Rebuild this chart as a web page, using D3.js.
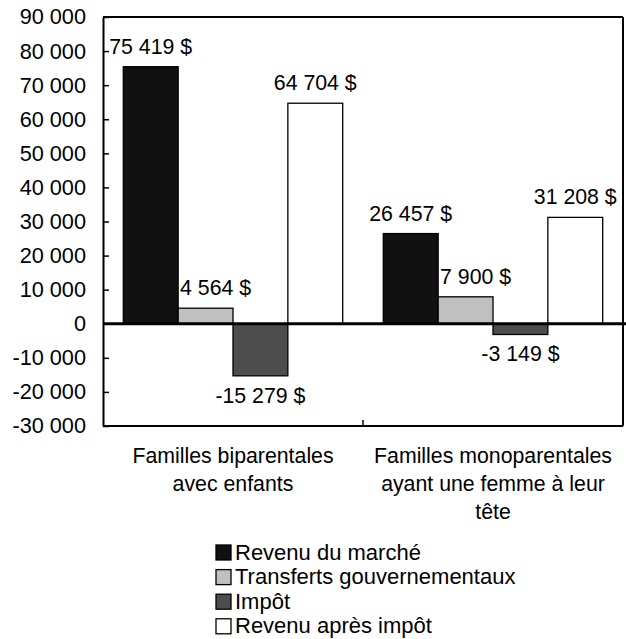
<!DOCTYPE html>
<html><head><meta charset="utf-8">
<script src="https://cdn.jsdelivr.net/npm/d3@7"></script>
<style>body{margin:0;background:#fff}svg{display:block}text{font-family:"Liberation Sans",Arial,sans-serif;fill:#000}</style>
</head><body>
<script>
const categories = [["Familles biparentales","avec enfants"],["Familles monoparentales","ayant une femme à leur","tête"]];
const categoryKeys = ["biparentales","monoparentales"];
const seriesNames = ["Revenu du marché","Transferts gouvernementaux","Impôt","Revenu après impôt"];
const seriesColors = ["#111111","#c0c0c0","#4d4d4d","#ffffff"];
const valuesBiparentales = [75419, 4564, -15279, 64704];
const valuesMonoparentales = [26457, 7900, -3149, 31208];
const yTicks = [-30000,-20000,-10000,0,10000,20000,30000,40000,50000,60000,70000,80000,90000];

(function(){
const W = 626, H = 639;
const svg = d3.select("body").append("svg").attr("width", W).attr("height", H);
const loc = d3.formatLocale({decimal:",", thousands:" ", grouping:[3], currency:[""," $"], minus:"-"});
const fmtTick = loc.format(",d");
const fmtVal = v => loc.format(",d")(v) + " $";

const mLeft = 103, mRight = 623, mTop = 17, mBottom = 426;
const y = d3.scaleLinear().domain([-30000, 90000]).range([mBottom, mTop]);
const x0 = d3.scaleBand().domain(categoryKeys).range([mLeft, mRight]).padding(0);
const x1 = d3.scaleBand().domain(seriesNames).range([0, x0.bandwidth()]).paddingInner(0).paddingOuter(0.37);
const data = [valuesBiparentales, valuesMonoparentales];

// bars
categoryKeys.forEach((k, ci) => {
  const g = svg.append("g").attr("transform", `translate(${x0(k)},0)`);
  seriesNames.forEach((s, si) => {
    const v = data[ci][si];
    g.append("rect")
      .attr("x", x1(s)).attr("width", x1.bandwidth())
      .attr("y", y(Math.max(0, v))).attr("height", Math.abs(y(v) - y(0)))
      .attr("fill", seriesColors[si]).attr("stroke", "#000").attr("stroke-width", 1.3);
    const dx = si === 1 ? 10 : 0;
    g.append("text")
      .attr("x", x1(s) + x1.bandwidth()/2 + dx)
      .attr("y", v >= 0 ? y(v) - 13 : y(v) + 27)
      .attr("text-anchor", "middle").attr("font-size", 21.3)
      .text(fmtVal(v));
  });
});

// frame
const frame = svg.append("g").attr("fill","none").attr("stroke","#000").attr("stroke-width",2);
frame.append("line").attr("x1",mLeft).attr("x2",mRight).attr("y1",mTop).attr("y2",mTop);
frame.append("line").attr("x1",mRight).attr("x2",mRight).attr("y1",mTop).attr("y2",mBottom);
frame.append("line").attr("x1",mLeft).attr("x2",mRight).attr("y1",mBottom).attr("y2",mBottom);

// y axis
const yAxis = d3.axisLeft(y).tickValues(yTicks).tickSizeInner(-6).tickSizeOuter(0).tickPadding(17).tickFormat(fmtTick);
const ya = svg.append("g").attr("transform", `translate(${mLeft},0)`).call(yAxis);
ya.select(".domain").attr("stroke-width", 2);
ya.selectAll(".tick line").attr("stroke-width", 1.5);
ya.selectAll("text").attr("font-size", 21.7).attr("font-family", "Liberation Sans, Arial, sans-serif").attr("fill","#000");

// zero line
svg.append("line").attr("x1", mLeft).attr("x2", W).attr("y1", y(0)).attr("y2", y(0))
  .attr("stroke", "#000").attr("stroke-width", 3);

// category ticks
svg.append("line").attr("x1", x0(categoryKeys[1])).attr("x2", x0(categoryKeys[1]))
  .attr("y1", mBottom).attr("y2", mBottom - 6).attr("stroke","#000").attr("stroke-width",1.5);

// category labels
categoryKeys.forEach((k, ci) => {
  const cx = x0(k) + x0.bandwidth()/2;
  const t = svg.append("text").attr("text-anchor","middle").attr("font-size",21.3)
    .attr("x", cx).attr("y", 463);
  categories[ci].forEach((line, li) => {
    t.append("tspan").attr("x", cx).attr("dy", li ? 28 : 0).text(line);
  });
});

// legend
const lg = svg.append("g");
seriesNames.forEach((s, i) => {
  const by = 559.5 + i * 24.6;
  lg.append("rect").attr("x", 216).attr("y", by - 14.5).attr("width", 15).attr("height", 15)
    .attr("fill", seriesColors[i]).attr("stroke", "#000").attr("stroke-width", 1.3);
  lg.append("text").attr("x", 235).attr("y", by).attr("font-size", 22).text(s);
});
})();
</script>
</body></html>
